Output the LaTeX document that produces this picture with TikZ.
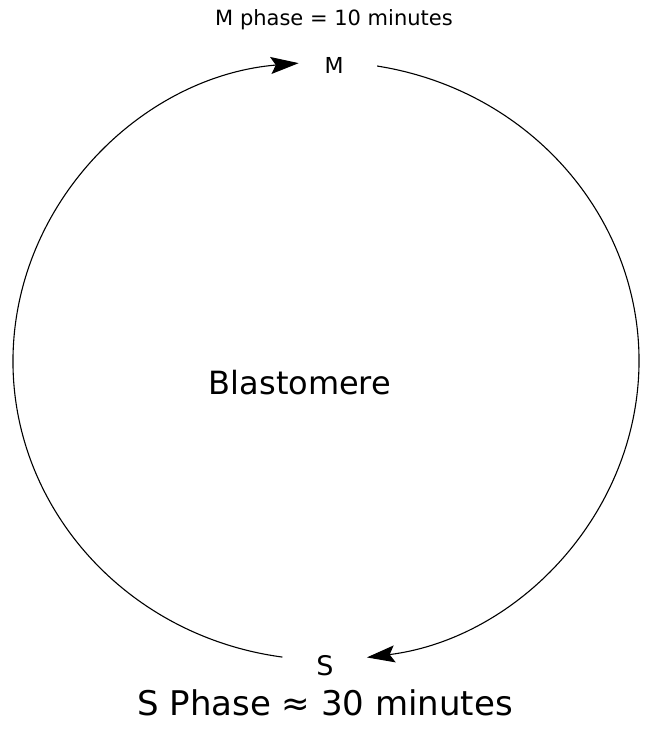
\documentclass[tikz,border=0pt]{standalone}
\usepackage{fontspec}
\setmainfont{DejaVu Sans}
\usetikzlibrary{arrows.meta, positioning, calc}
\tikzset{
  cyclearc/.style={color=black, line width=1.1pt,
                   -{Stealth[length=28pt, width=17pt, inset=5pt]}},
  phaselabel/.style={inner sep=0pt, font=\fontsize{21}{24}\selectfont},
  stagelabel/.style={inner sep=0pt},
  celllabel/.style={inner sep=0pt, font=\fontsize{32}{36}\selectfont}
}
\begin{document}
\begin{tikzpicture}[x=1pt, y=1pt]
  \useasboundingbox (0,0) rectangle (646,732);

  % -- phase letters on the cycle --
  \node[stagelabel, font=\fontsize{22}{24}\selectfont] (M) at (334,667) {M};
  \node[stagelabel, font=\fontsize{27}{30}\selectfont] (S) at (325,66) {S};

  % -- durations --
  \node[phaselabel, above=27pt of M] (mphase) {M phase = 10 minutes};
  \node[phaselabel, font=\fontsize{34}{38}\selectfont, below=13pt of S] (sphase)
      {S Phase ≈ 30 minutes};

  % -- centre --
  \node[celllabel] (cell) at (300,349) {Blastomere};

  % -- ends of the arcs --
  \coordinate (sleft) at ($(326,371)+(262:313 and 299)$);
  \coordinate (mright) at ($(326,371)+(80.6:313 and 299)$);

  % -- cycle --
  \draw[cyclearc] (sleft) arc[start angle=262, end angle=95,
                              x radius=313, y radius=299];
  \draw[cyclearc] (mright) arc[start angle=80.6, end angle=-82.5,
                               x radius=313, y radius=299];
\end{tikzpicture}
\end{document}
